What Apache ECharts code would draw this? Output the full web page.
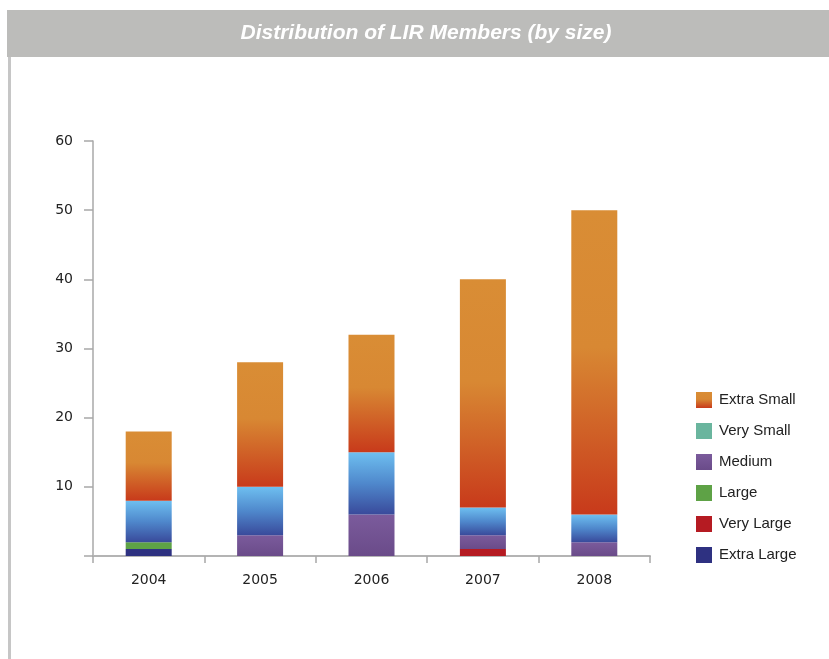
<!DOCTYPE html>
<html>
<head>
<meta charset="utf-8">
<script src="https://cdn.jsdelivr.net/npm/echarts@6/dist/echarts.min.js"></script>
<style>html,body{margin:0;padding:0;background:#fff}#c{width:829px;height:659px}</style>
</head>
<body>
<div id="c"></div>
<script>
var years = ['2004','2005','2006','2007','2008'];
var extraLarge = [1, 0, 0, 0, 0];
var veryLarge  = [0, 0, 0, 1, 0];
var large      = [1, 0, 0, 0, 0];
var medium     = [0, 3, 6, 2, 2];
var small      = [6, 7, 9, 4, 4];
var verySmall  = [0, 0, 0, 0, 0];
var extraSmall = [10, 18, 17, 33, 44];
var legendNames = ['Extra Small','Very Small','Medium','Large','Very Large','Extra Large'];

function grad(stops){
  return new echarts.graphic.LinearGradient(0,0,0,1, stops.map(function(s){return {offset:s[0], color:s[1]};}));
}
var chart = echarts.init(document.getElementById('c'));
function mk(name, data, color){
  return {name:name, type:'bar', stack:'t', data:data, barWidth:46, itemStyle:{color:color}, emphasis:{disabled:true}};
}
chart.setOption({
  animation:false,
  graphic:[
    {type:'rect', shape:{x:7,y:10,width:822,height:47}, style:{fill:'#bcbcba'}},
    {type:'rect', shape:{x:8,y:57,width:3,height:602}, style:{fill:'#c6c6c6'}},
    {type:'text', x:426, y:33, style:{text:'Distribution of LIR Members (by size)', fill:'#ffffff', font:'italic bold 21px "Liberation Sans", Arial, sans-serif', align:'center', verticalAlign:'middle'}}
  ],
  grid:{left:93, right:179, top:141, bottom:103},
  legend:{
    orient:'vertical', left:696, top:392, padding:0, itemWidth:16, itemHeight:16, itemGap:15,
    icon:'rect',
    data:legendNames,
    textStyle:{fontSize:15, color:'#222', fontFamily:'"Liberation Sans", Arial, sans-serif', padding:[0,0,0,2]}
  },
  xAxis:{
    type:'category', data:years, boundaryGap:true,
    axisLine:{lineStyle:{color:'#b4b4b4', width:2}},
    axisTick:{show:true, interval:0, length:7, lineStyle:{color:'#a8a8a8', width:1.5}},
    axisLabel:{margin:17, fontSize:14, color:'#222', fontFamily:'"DejaVu Sans", sans-serif'}
  },
  yAxis:{
    type:'value', min:0, max:60, interval:10,
    splitLine:{show:false},
    axisLine:{show:true, lineStyle:{color:'#a8a8a8', width:1.5}},
    axisTick:{show:true, length:9, lineStyle:{color:'#a8a8a8', width:1.5}},
    axisLabel:{margin:20, fontSize:14, color:'#222', fontFamily:'"DejaVu Sans", sans-serif',
      formatter:function(v){return v===0?'':String(v);}}
  },
  series:[
    mk('Extra Large', extraLarge, '#2e3181'),
    mk('Very Large', veryLarge, '#b51b22'),
    mk('Large', large, '#5ea246'),
    mk('Medium', medium, grad([[0,'#7b5b9c'],[1,'#6a4b89']])),
    mk('Small', small, grad([[0,'#6ebff0'],[0.5,'#4f88cc'],[1,'#394a9b']])),
    mk('Very Small', verySmall, '#6ab59e'),
    mk('Extra Small', extraSmall, grad([[0,'#d98d35'],[0.45,'#d88833'],[1,'#c83a1b']]))
  ]
});
</script>
</body>
</html>
